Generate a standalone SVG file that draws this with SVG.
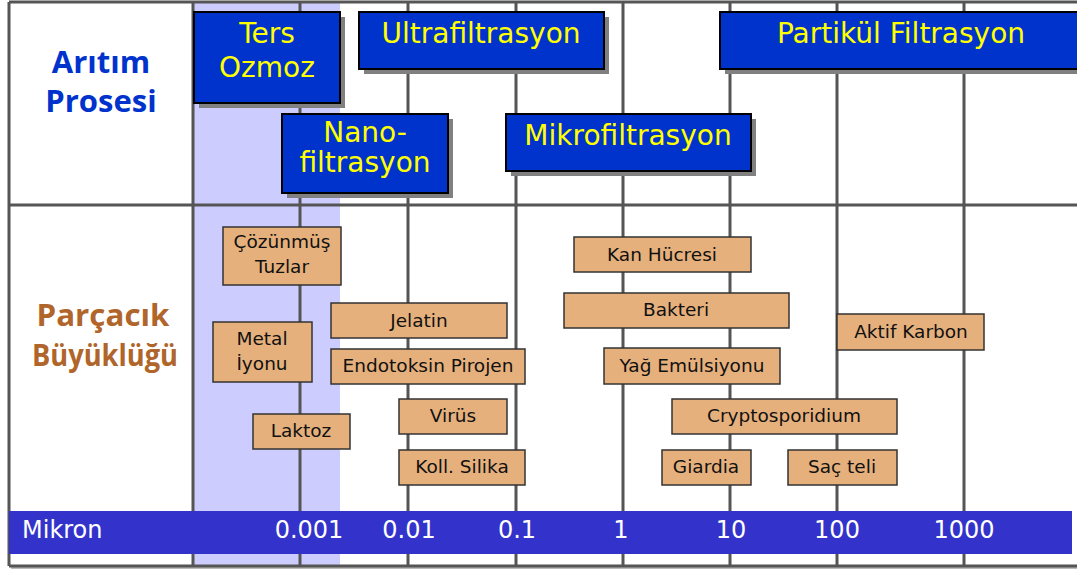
<svg xmlns="http://www.w3.org/2000/svg" width="1077" height="569" viewBox="0 0 1077 569">
  <style>
    .grid { stroke: #555555; stroke-width: 3; fill: none; }
    .proc rect.box { fill: #0033CC; stroke: #000000; stroke-width: 2; }
    .proc rect.shadow { fill: #808080; }
    .proc text { font-family: "DejaVu Sans", sans-serif; font-size: 28px; fill: #FFFF00; text-anchor: middle; }
    .part rect { fill: #E6B07C; stroke: #333333; stroke-width: 1.5; }
    .part text { font-family: "DejaVu Sans", sans-serif; font-size: 18.5px; fill: #111111; text-anchor: middle; }
    .head { font-family: "Open Sans", "DejaVu Sans", sans-serif; font-weight: bold; font-size: 31px; text-anchor: middle; }
    .scale text { font-family: "DejaVu Sans", sans-serif; font-size: 24px; fill: #FFFFFF; }
  </style>

  <!-- background -->
  <rect x="0" y="0" width="1077" height="569" fill="#FFFFFF"/>
  <!-- shaded band: reverse osmosis range -->
  <rect x="194" y="2" width="146" height="564" fill="#CCCCFF"/>

  <!-- frame shadow -->
  <line x1="11" y1="568" x2="1077" y2="568" stroke="#BBBBBB" stroke-width="2"/>

  <!-- grid lines -->
  <g id="grid" class="grid">
    <line x1="9" y1="2" x2="1077" y2="2"/>
    <line x1="9" y1="205" x2="1077" y2="205"/>
    <line x1="9" y1="566" x2="1077" y2="566"/>
    <line x1="9" y1="2" x2="9" y2="566"/>
    <line x1="193" y1="2" x2="193" y2="566"/>
    <line x1="300" y1="2" x2="300" y2="566"/>
    <line x1="408" y1="2" x2="408" y2="566"/>
    <line x1="516" y1="2" x2="516" y2="566"/>
    <line x1="623" y1="2" x2="623" y2="566"/>
    <line x1="730" y1="2" x2="730" y2="566"/>
    <line x1="837" y1="2" x2="837" y2="566"/>
    <line x1="964" y1="2" x2="964" y2="566"/>
  </g>

  <!-- row headings -->
  <g id="heading-process">
    <text class="head" x="101" y="73" fill="#0033CC">Arıtım</text>
    <text class="head" x="101" y="112" fill="#0033CC">Prosesi</text>
  </g>
  <g id="heading-size">
    <text class="head" x="103" y="326" fill="#B0652A" textLength="133" lengthAdjust="spacingAndGlyphs">Parçacık</text>
    <text class="head" x="105" y="366" fill="#B0652A" textLength="146" lengthAdjust="spacingAndGlyphs">Büyüklüğü</text>
  </g>

  <!-- treatment processes -->
  <g id="ters-ozmoz" class="proc">
    <rect class="shadow" x="199" y="17" width="146" height="91"/>
    <rect class="box" x="194" y="12" width="146" height="91"/>
    <text x="267" y="43">Ters</text>
    <text x="267" y="77">Ozmoz</text>
  </g>
  <g id="ultrafiltrasyon" class="proc">
    <rect class="shadow" x="364" y="17" width="245" height="57"/>
    <rect class="box" x="359" y="12" width="245" height="57"/>
    <text x="481" y="43">Ultrafiltrasyon</text>
  </g>
  <g id="partikul-filtrasyon" class="proc">
    <rect class="shadow" x="725" y="17" width="360" height="57"/>
    <rect class="box" x="720" y="12" width="365" height="57"/>
    <text x="901" y="43">Partikül Filtrasyon</text>
  </g>
  <g id="nanofiltrasyon" class="proc">
    <rect class="shadow" x="287" y="119" width="166" height="79"/>
    <rect class="box" x="282" y="114" width="166" height="79"/>
    <text x="365" y="142">Nano-</text>
    <text x="365" y="172">filtrasyon</text>
  </g>
  <g id="mikrofiltrasyon" class="proc">
    <rect class="shadow" x="511" y="119" width="245" height="57"/>
    <rect class="box" x="506" y="114" width="245" height="57"/>
    <text x="628" y="145">Mikrofiltrasyon</text>
  </g>

  <!-- particles -->
  <g id="cozunmus-tuzlar" class="part">
    <rect x="223" y="227" width="118" height="58"/>
    <text x="282" y="248">Çözünmüş</text>
    <text x="282" y="273">Tuzlar</text>
  </g>
  <g id="metal-iyonu" class="part">
    <rect x="213" y="322" width="99" height="60"/>
    <text x="262" y="345">Metal</text>
    <text x="262" y="370">İyonu</text>
  </g>
  <g id="laktoz" class="part">
    <rect x="253" y="414" width="97" height="35"/>
    <text x="301" y="437">Laktoz</text>
  </g>
  <g id="jelatin" class="part">
    <rect x="331" y="303" width="176" height="35"/>
    <text x="419" y="327">Jelatin</text>
  </g>
  <g id="endotoksin-pirojen" class="part">
    <rect x="331" y="349" width="194" height="35"/>
    <text x="428" y="372">Endotoksin Pirojen</text>
  </g>
  <g id="virus" class="part">
    <rect x="399" y="399" width="108" height="35"/>
    <text x="453" y="422">Virüs</text>
  </g>
  <g id="koll-silika" class="part">
    <rect x="399" y="450" width="126" height="35"/>
    <text x="462" y="473">Koll. Silika</text>
  </g>
  <g id="kan-hucresi" class="part">
    <rect x="574" y="237" width="177" height="35"/>
    <text x="662" y="261">Kan Hücresi</text>
  </g>
  <g id="bakteri" class="part">
    <rect x="564" y="293" width="225" height="35"/>
    <text x="676" y="316">Bakteri</text>
  </g>
  <g id="aktif-karbon" class="part">
    <rect x="837" y="314" width="147" height="36"/>
    <text x="911" y="338">Aktif Karbon</text>
  </g>
  <g id="yag-emulsiyonu" class="part">
    <rect x="604" y="348" width="176" height="36"/>
    <text x="692" y="372">Yağ Emülsiyonu</text>
  </g>
  <g id="cryptosporidium" class="part">
    <rect x="672" y="399" width="225" height="35"/>
    <text x="784" y="422">Cryptosporidium</text>
  </g>
  <g id="giardia" class="part">
    <rect x="662" y="450" width="89" height="35"/>
    <text x="706" y="473">Giardia</text>
  </g>
  <g id="sac-teli" class="part">
    <rect x="788" y="450" width="109" height="35"/>
    <text x="842" y="473">Saç teli</text>
  </g>

  <!-- micron scale bar -->
  <g id="scale" class="scale">
    <rect x="9" y="511" width="1063" height="43" fill="#3333CC"/>
    <text x="22" y="538">Mikron</text>
    <text x="309" y="538" text-anchor="middle">0.001</text>
    <text x="409" y="538" text-anchor="middle">0.01</text>
    <text x="517" y="538" text-anchor="middle">0.1</text>
    <text x="621" y="538" text-anchor="middle">1</text>
    <text x="731" y="538" text-anchor="middle">10</text>
    <text x="837" y="538" text-anchor="middle">100</text>
    <text x="964" y="538" text-anchor="middle">1000</text>
  </g>
</svg>
